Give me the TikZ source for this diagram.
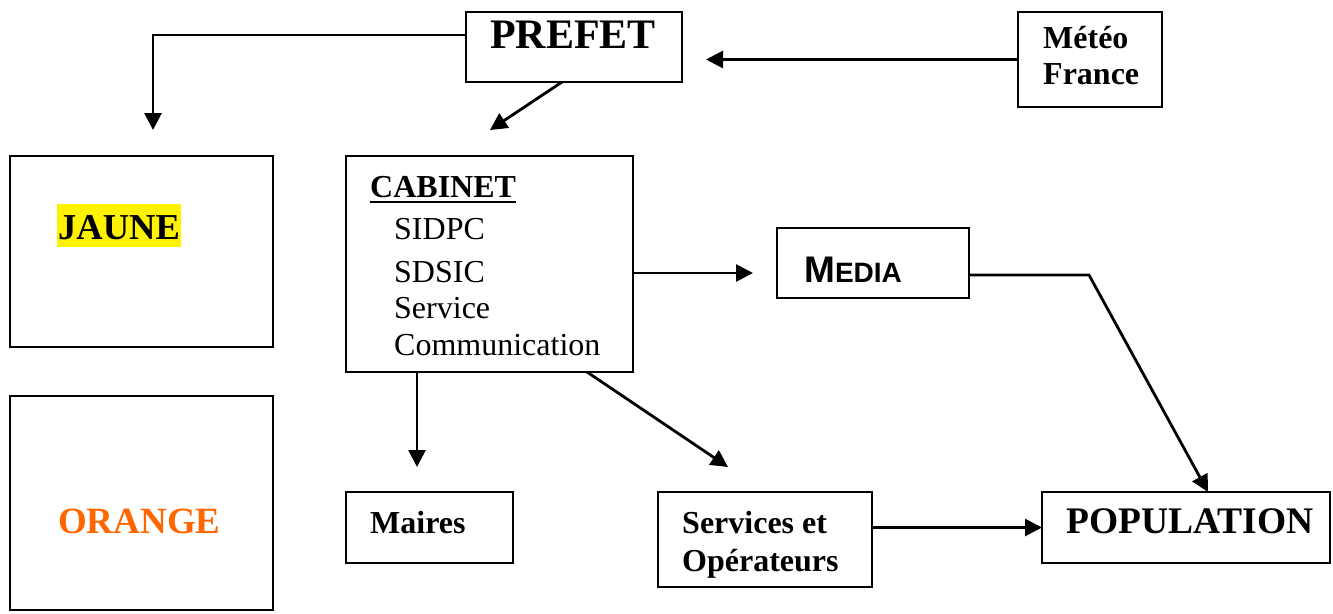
\documentclass[tikz,border=0pt]{standalone}
\usepackage{fontspec}
\setmainfont{Liberation Serif}
\newfontfamily\arialf{Liberation Sans}
\usetikzlibrary{arrows.meta}
\definecolor{orangetxt}{HTML}{FF6600}
\begin{document}
\begin{tikzpicture}[x=1pt,y=-1pt,
  box/.style={draw,line width=2.4pt,inner sep=0pt,outer sep=0pt,anchor=north west},
  txt/.style={anchor=base west,inner sep=0pt},
  arr/.style={line width=2.8pt,-{Triangle[length=17pt,width=17pt]}}]
\useasboundingbox (0,0) rectangle (1333,613);
% boxes
\node[box,minimum width=216pt,minimum height=70pt] (prefet) at (466,12) {};
\node[box,minimum width=144pt,minimum height=95pt] (meteo) at (1018,12) {};
\node[box,minimum width=263pt,minimum height=191pt] (jaune) at (10,156) {};
\node[box,minimum width=263pt,minimum height=214pt] (orange) at (10,396) {};
\node[box,minimum width=287pt,minimum height=216pt] (cabinet) at (346,156) {};
\node[box,minimum width=192pt,minimum height=70pt] (media) at (777,228) {};
\node[box,minimum width=167pt,minimum height=71pt] (maires) at (346,492) {};
\node[box,minimum width=214pt,minimum height=95pt] (services) at (658,492) {};
\node[box,minimum width=288pt,minimum height=71pt] (population) at (1042,492) {};
% texts
\node[txt,font=\fontsize{42}{48}\selectfont\bfseries] (tprefet) at (490,48) {PREFET};
\node[txt,font=\fontsize{32}{36}\selectfont\bfseries] (tmeteo1) at (1043,48) {Météo};
\node[txt,font=\fontsize{32}{36}\selectfont\bfseries] (tmeteo2) at (1043,84) {France};
\node[txt,font=\fontsize{36.5}{40}\selectfont\bfseries,fill=yellow,inner xsep=1pt,inner ysep=0pt,text height=35pt,text depth=8pt] (tjaune) at (57,239) {JAUNE};
\node[txt,font=\fontsize{37}{40}\selectfont\bfseries,text=orangetxt] (torange) at (58,533) {ORANGE};
\node[txt,font=\fontsize{32}{36}\selectfont\bfseries] (tcab) at (370,197) {CABINET};
\draw[line width=2.6pt] ([yshift=-5pt]tcab.base west) -- ([yshift=-5pt]tcab.base east);
\node[txt,font=\fontsize{32}{36}\selectfont] (tsidpc) at (394,239) {SIDPC};
\node[txt,font=\fontsize{32}{36}\selectfont] (tsdsic) at (394,282) {SDSIC};
\node[txt,font=\fontsize{32}{36}\selectfont] (tserv) at (394,318) {Service};
\node[txt,font=\fontsize{32}{36}\selectfont] (tcomm) at (394,355) {Communication};
\node[txt,font=\arialf\bfseries] (tmedia) at (804,282) {\fontsize{37}{40}\selectfont M\fontsize{28}{30}\selectfont EDIA};
\node[txt,font=\fontsize{32}{36}\selectfont\bfseries] (tmaires) at (370,533) {Maires};
\node[txt,font=\fontsize{32}{36}\selectfont\bfseries] (tserv1) at (682,533) {Services et};
\node[txt,font=\fontsize{32}{36}\selectfont\bfseries] (tserv2) at (682,571) {Opérateurs};
\node[txt,font=\fontsize{37.5}{40}\selectfont\bfseries] (tpop) at (1066,533) {POPULATION};
% free ends
\coordinate (jtip) at (153,130);
\coordinate (ctip) at (490,130);
\coordinate (mtip) at (706,59.5);
\coordinate (medtip) at (753,273);
\coordinate (mairtip) at (417,467);
\coordinate (servtip) at (728,467);
\coordinate (bend) at (1089,275);
% connectors
\draw[arr] ([yshift=12pt]prefet.west) -| (jtip);
\draw[arr] ([xshift=-12pt]prefet.south) -- (ctip);
\draw[arr] (meteo.west) -- (mtip |- meteo.west);
\draw[arr] ([yshift=-9pt]cabinet.east) -- (medtip);
\draw[arr] ([xshift=-72.5pt]cabinet.south) -- (mairtip);
\draw[arr] ([xshift=97.5pt]cabinet.south) -- (servtip);
\draw[arr] ([yshift=-12pt]media.east) -- (bend) -- ([xshift=22pt]population.north);
\draw[arr] ([yshift=12pt]services.east) -- (population.west);
\end{tikzpicture}
\end{document}
